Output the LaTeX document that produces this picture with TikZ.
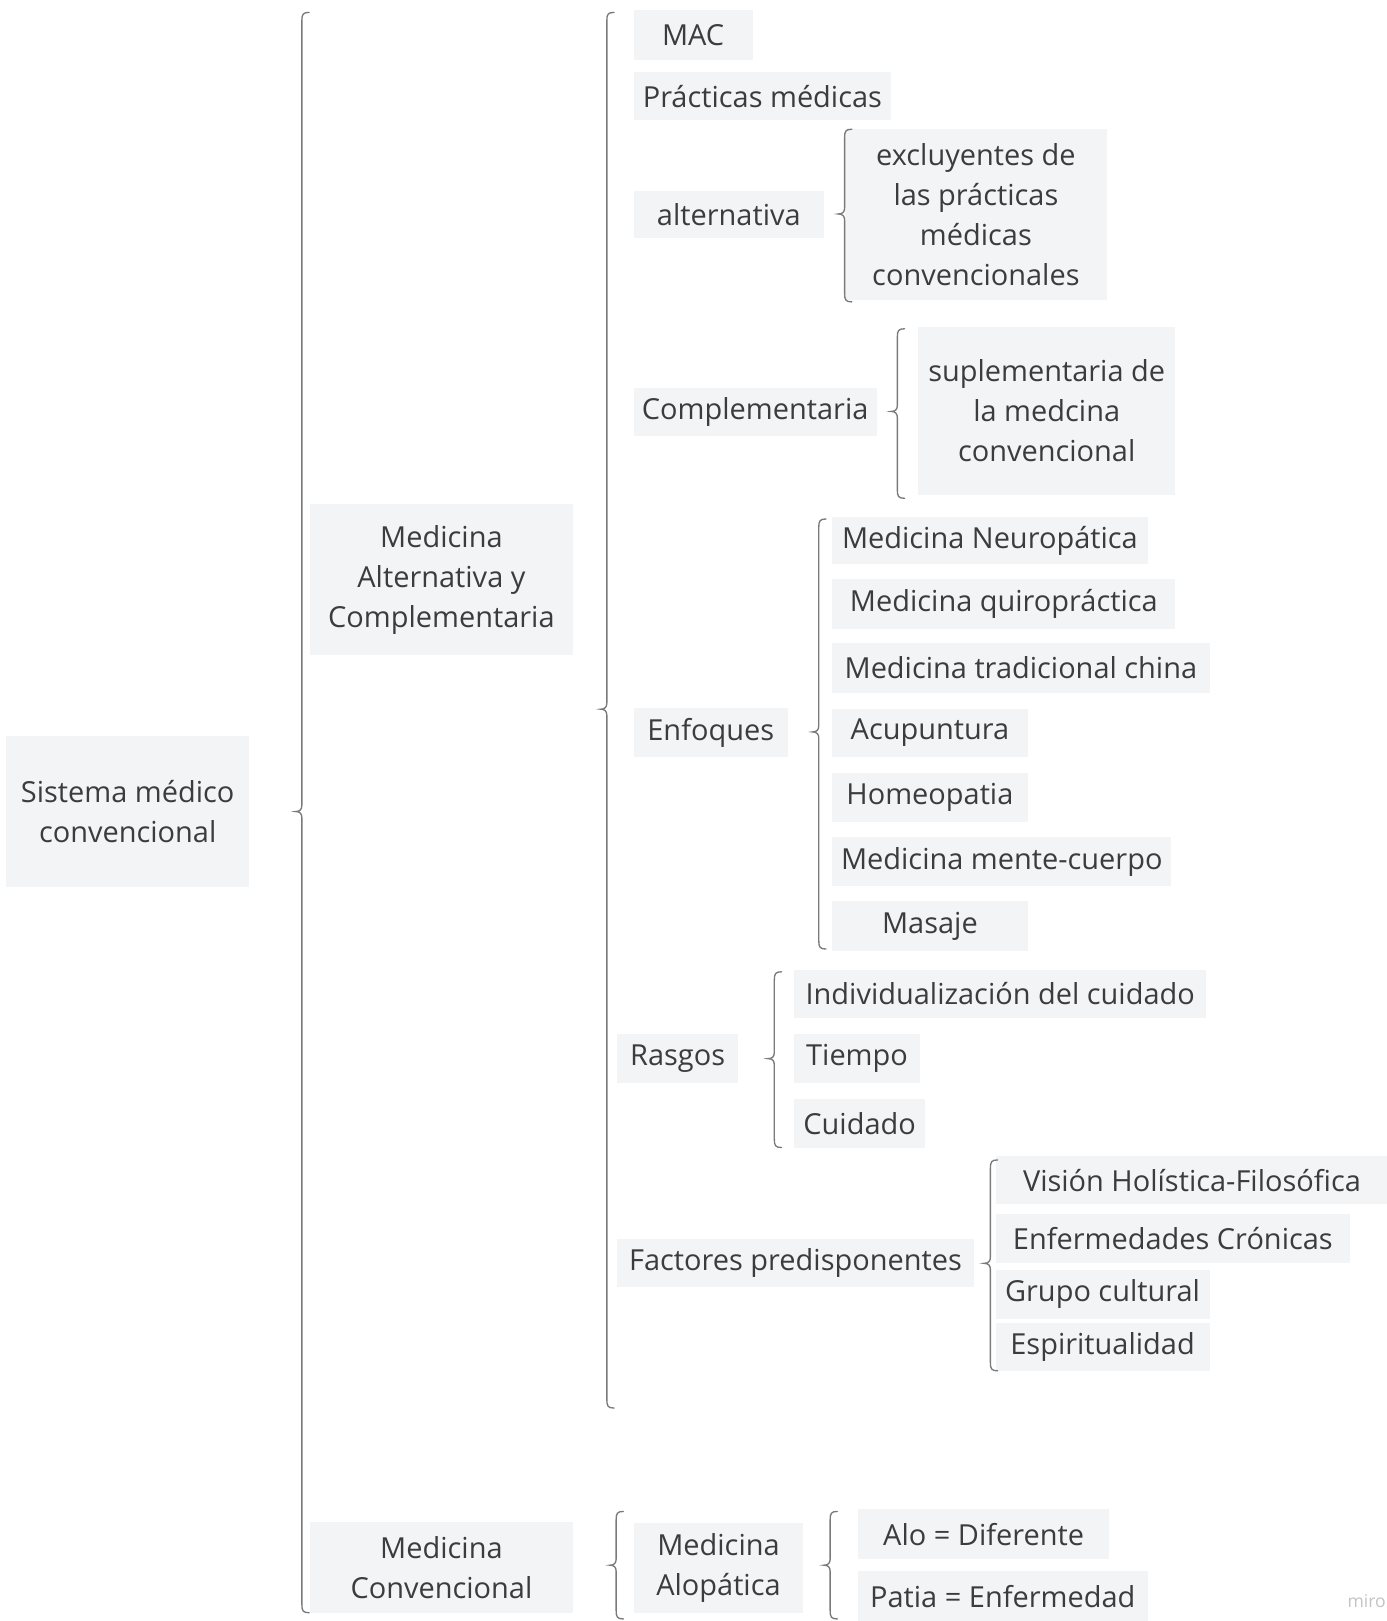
\documentclass[tikz,border=0pt]{standalone}
\usepackage{fontspec}
\setmainfont{Open Sans}
\definecolor{boxfill}{HTML}{F3F4F6}
\definecolor{txt}{HTML}{3C3C3C}
\definecolor{bracec}{HTML}{7A7A7A}
\definecolor{wm}{HTML}{C4C4C4}
\newcommand\mybrace[4]{%
  \draw[bracestyle] (#1+7,#2) .. controls (#1+1,#2) and (#1,#2+2) .. (#1,#2+8)
    -- (#1,#4-6) .. controls (#1,#4-2) and (#1-2,#4) .. (#1-6,#4)
    .. controls (#1-2,#4) and (#1,#4+2) .. (#1,#4+6)
    -- (#1,#3-8) .. controls (#1,#3-2) and (#1+1,#3) .. (#1+7,#3);}
\begin{document}
\begin{tikzpicture}[x=1pt,y=-1pt,
  box/.style={fill=boxfill, text=txt, inner sep=0pt, align=center,
    font=\fontsize{28}{38.5}\selectfont},
  bracestyle/.style={draw=bracec, line width=1.3pt, line cap=round}]
\useasboundingbox[fill=white] (0,0) rectangle (1341,1568);

% level 0 / 1
\node[box, minimum width=235, minimum height=146] (sis) at (123.5,785) {Sistema médico\\convencional};
\node[box, minimum width=254, minimum height=146] (mac) at (427,561) {Medicina\\Alternativa y\\Complementaria};
\node[box, minimum width=254, minimum height=88] (mconv) at (427,1516) {Medicina\\Convencional};

% level 2
\node[box, minimum width=115, minimum height=48] (MAC) at (670.5,34) {MAC};
\node[box, minimum width=249, minimum height=46] (prac) at (737.5,93) {Prácticas médicas};
\node[box, minimum width=184, minimum height=45] (alt) at (705,207.5) {alternativa};
\node[box, minimum width=235, minimum height=47] (comp) at (730.5,398.5) {Complementaria};
\node[box, minimum width=149, minimum height=47] (enf) at (687.5,708.5) {Enfoques};
\node[box, minimum width=117, minimum height=48] (rasgos) at (655.5,1024) {Rasgos};
\node[box, minimum width=345, minimum height=47] (fact) at (769.5,1221.5) {Factores predisponentes};
\node[box, minimum width=164, minimum height=87] (alop) at (695,1516.5) {Medicina\\Alopática};

% level 3
\node[box, minimum width=254, minimum height=165] (exc) at (944,207.5) {excluyentes de\\las prácticas\\médicas\\convencionales};
\node[box, minimum width=249, minimum height=163] (supl) at (1012.5,397.5) {suplementaria de\\la medcina\\convencional};
\node[box, minimum width=305, minimum height=46] (neuro) at (957.5,523) {Medicina Neuropática};
\node[box, minimum width=332, minimum height=48] (quiro) at (971,584) {Medicina quiropráctica};
\node[box, minimum width=365, minimum height=48] (tcm) at (987.5,646) {Medicina tradicional china};
\node[box, minimum width=189, minimum height=46] (acu) at (899.5,709) {Acupuntura};
\node[box, minimum width=189, minimum height=47] (homeo) at (899.5,771.5) {Homeopatia};
\node[box, minimum width=328, minimum height=47] (mente) at (969,833.5) {Medicina mente-cuerpo};
\node[box, minimum width=189, minimum height=48] (masaje) at (899.5,896) {Masaje};
\node[box, minimum width=399, minimum height=47] (indiv) at (967.5,961.5) {Individualización del cuidado};
\node[box, minimum width=122, minimum height=48] (tiempo) at (829,1024) {Tiempo};
\node[box, minimum width=127, minimum height=47] (cuid) at (831.5,1086.5) {Cuidado};
\node[box, minimum width=380, minimum height=47] (vision) at (1153,1141.5) {Visión Holística-Filosófica};
\node[box, minimum width=343, minimum height=48] (enfcr) at (1134.5,1198) {Enfermedades Crónicas};
\node[box, minimum width=207, minimum height=48] (grupo) at (1066.5,1252) {Grupo cultural};
\node[box, minimum width=207, minimum height=46] (espir) at (1066.5,1303) {Espiritualidad};
\node[box, minimum width=243, minimum height=48] (alo) at (951.5,1484) {Alo = Diferente};
\node[box, minimum width=280, minimum height=48] (patia) at (970,1544) {Patia = Enfermedad};

% braces
\mybrace{292}{12}{1560}{785}
\mybrace{587}{12}{1362}{686}
\mybrace{817}{125}{292}{207}
\mybrace{868}{318}{482}{398}
\mybrace{792}{502}{918}{708}
\mybrace{749}{940}{1110}{1024}
\mybrace{958}{1122}{1326}{1222}
\mybrace{596}{1462}{1566}{1514}
\mybrace{803}{1462}{1566}{1514}

% watermark
\node[text=wm, inner sep=0pt, font=\fontsize{17}{20}\selectfont] (miro) at (1322,1549) {miro};
\end{tikzpicture}
\end{document}
